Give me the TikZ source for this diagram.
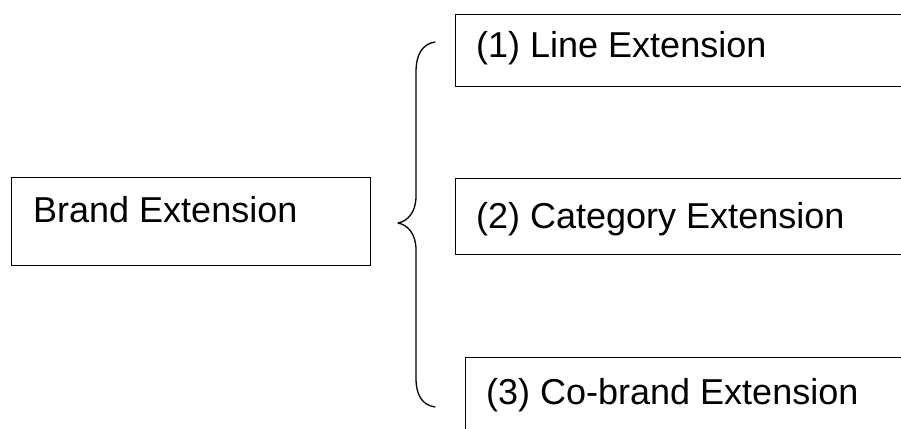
\documentclass[tikz,border=0pt]{standalone}
\usepackage{fontspec}
\setmainfont{Liberation Sans}
\begin{document}
\begin{tikzpicture}[x=1pt,y=-1pt,
  box/.style={draw=black,line width=1.3pt,inner sep=0pt,anchor=north west},
  lbl/.style={anchor=base west,inner sep=0pt,font=\fontsize{36}{43}\selectfont},
  brace/.style={draw=black,line width=1.3pt,line cap=round,line join=round}]
\useasboundingbox (0,0) rectangle (901,428);
\clip (0,0) rectangle (901,428);

% main concept on the left
\node[box,minimum width=359pt,minimum height=88pt] (brand) at (11,177) {};
\node[lbl] (brandtxt) at (33,222) {Brand Extension};

% the three kinds of extension, boxes running off the right edge
\node[box,minimum width=470pt,minimum height=72pt] (line) at (455,14) {};
\node[lbl] (linetxt) at (476,58) {(1) Line Extension};

\node[box,minimum width=470pt,minimum height=76pt] (cat) at (455,178) {};
\node[lbl] (cattxt) at (476,228) {(2) Category Extension};

\node[box,minimum width=460pt,minimum height=90pt] (cobrand) at (465,357) {};
\node[lbl] (cobrandtxt) at (486,404) {(3) Co-brand Extension};

% curly brace grouping the three kinds
\coordinate (btop) at (435,42);
\coordinate (btip) at (398,223);
\coordinate (bbot) at (435,407);
\path[brace] (btop) .. controls (422,44) and (416,55) .. (416,72)
  -- (416,196) .. controls (416,212) and (408,221) .. (btip)
  .. controls (408,225) and (416,234) .. (416,250)
  -- (416,378) .. controls (416,395) and (422,405) .. (bbot);
\end{tikzpicture}
\end{document}
